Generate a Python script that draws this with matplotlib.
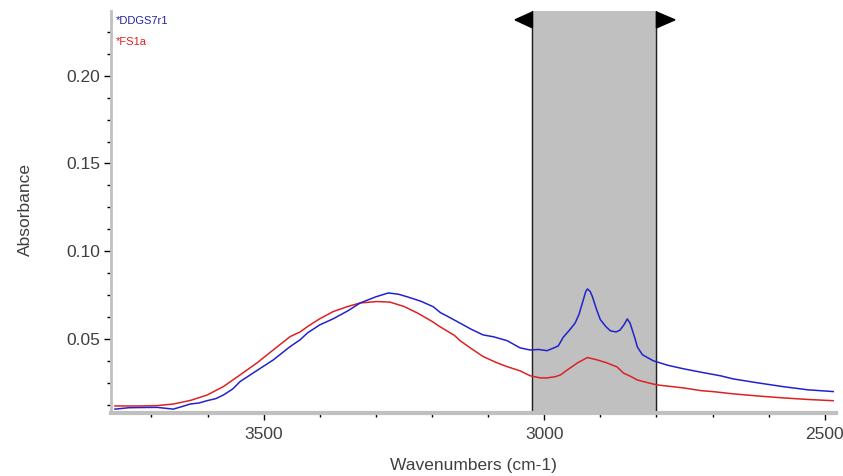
import numpy as np
import matplotlib
matplotlib.use("Agg")
import matplotlib.pyplot as plt
from matplotlib.patches import Polygon
from matplotlib.ticker import MultipleLocator
import matplotlib.transforms as mtransforms

plt.rcParams['font.family'] = ['Liberation Sans', 'DejaVu Sans']

# spectrum values (wavenumber, absorbance)
wn_ddgs = [3765, 3740, 3720, 3690, 3661, 3645, 3631, 3615, 3601, 3585, 3572, 3555,
           3542, 3512, 3483, 3453, 3435, 3422, 3400, 3376, 3350, 3328, 3300, 3278,
           3260, 3244, 3220, 3198, 3185, 3170, 3150, 3130, 3109, 3090, 3066, 3043,
           3025, 3010, 2995, 2982, 2975, 2966, 2955, 2945, 2938, 2932, 2926, 2923,
           2918, 2914, 2907, 2900, 2890, 2882, 2872, 2865, 2858, 2852, 2847, 2843,
           2838, 2834, 2825, 2806, 2780, 2752, 2720, 2686, 2663, 2620, 2574, 2530, 2485]
abs_ddgs = [0.0100, 0.0108, 0.0109, 0.0110, 0.0100, 0.0115, 0.0129, 0.0135, 0.0148, 0.0160,
            0.0180, 0.0215, 0.0257, 0.0320, 0.0380, 0.0456, 0.0495, 0.0534, 0.0580, 0.0615,
            0.0660, 0.0705, 0.0740, 0.0762, 0.0755, 0.0740, 0.0715, 0.0684, 0.0650, 0.0625,
            0.0590, 0.0555, 0.0523, 0.0512, 0.0490, 0.0449, 0.0437, 0.0440, 0.0433, 0.0450,
            0.0460, 0.0510, 0.0550, 0.0590, 0.0640, 0.0705, 0.0770, 0.0785, 0.0770, 0.0740,
            0.0670, 0.0610, 0.0570, 0.0546, 0.0540, 0.0550, 0.0580, 0.0614, 0.0590, 0.0550,
            0.0500, 0.0454, 0.0410, 0.0376, 0.0350, 0.0330, 0.0310, 0.0290, 0.0272, 0.0250,
            0.0228, 0.0210, 0.0200]

wn_fs = [3765, 3720, 3690, 3661, 3630, 3601, 3572, 3542, 3512, 3483, 3453, 3435,
         3422, 3400, 3376, 3350, 3328, 3298, 3275, 3250, 3226, 3200, 3185, 3160,
         3150, 3130, 3109, 3085, 3066, 3043, 3025, 3007, 2995, 2980, 2971, 2959,
         2940, 2923, 2905, 2888, 2870, 2859, 2845, 2834, 2815, 2799, 2752, 2720,
         2700, 2663, 2620, 2574, 2530, 2485]
abs_fs = [0.0118, 0.0118, 0.0120, 0.0129, 0.0150, 0.0180, 0.0228, 0.0295, 0.0363, 0.0437,
          0.0513, 0.0540, 0.0570, 0.0615, 0.0656, 0.0685, 0.0705, 0.0713, 0.0710, 0.0685,
          0.0648, 0.0600, 0.0568, 0.0520, 0.0490, 0.0445, 0.0400, 0.0365, 0.0342, 0.0318,
          0.0290, 0.0278, 0.0278, 0.0285, 0.0295, 0.0323, 0.0365, 0.0394, 0.0380, 0.0363,
          0.0340, 0.0306, 0.0285, 0.0266, 0.0250, 0.0238, 0.0221, 0.0205, 0.0200, 0.0187,
          0.0175, 0.0164, 0.0155, 0.0148]

region = (3021, 2800)
text_col = '#404040'
axis_col = '#c0c0c0'

fig = plt.figure(figsize=(8.43, 4.76), dpi=100)
ax = fig.add_axes([0.1317, 0.1324, 0.8600, 0.8445])

# shaded region with edge lines
ax.axvspan(region[0], region[1], color='#c0c0c0', zorder=0)
ax.axvline(region[0], color='#202020', lw=1.0, zorder=1)
ax.axvline(region[1], color='#202020', lw=1.0, zorder=1)

ax.plot(wn_ddgs, abs_ddgs, color='#2222cc', lw=1.1, zorder=3)
ax.plot(wn_fs, abs_fs, color='#dd2222', lw=1.1, zorder=2)

ax.set_xlim(3772, 2480)
ax.set_ylim(0.0078, 0.2369)

# arrow heads at the top of the region
trans = mtransforms.blended_transform_factory(ax.transData, ax.transAxes)
left_tri = Polygon([(3052, 0.978), (region[0], 0.9975), (region[0], 0.958)],
                   closed=True, color='black', transform=trans, clip_on=False, zorder=4)
right_tri = Polygon([(2767, 0.978), (region[1], 0.9975), (region[1], 0.958)],
                    closed=True, color='black', transform=trans, clip_on=False, zorder=4)
ax.add_patch(left_tri)
ax.add_patch(right_tri)

# spines
for s in ['top', 'right']:
    ax.spines[s].set_visible(False)
ax.spines['bottom'].set_color(axis_col)
ax.spines['bottom'].set_linewidth(3)
ax.spines['left'].set_color(axis_col)
ax.spines['left'].set_linewidth(2)

ax.xaxis.set_major_locator(MultipleLocator(500))
ax.xaxis.set_minor_locator(MultipleLocator(100))
ax.yaxis.set_major_locator(MultipleLocator(0.05))
ax.yaxis.set_minor_locator(MultipleLocator(0.0125))
ax.yaxis.set_major_formatter(matplotlib.ticker.FormatStrFormatter('%.2f'))

ax.tick_params(axis='both', which='major', length=5, width=1, color='black',
               labelsize=12.5, labelcolor=text_col)
ax.tick_params(axis='both', which='minor', length=3, width=1, color='black')
ax.tick_params(axis='x', which='major', pad=5)
ax.tick_params(axis='y', which='major', pad=3)

ax.set_xlabel('Wavenumbers (cm-1)', fontsize=12.5, color=text_col)
ax.set_ylabel('Absorbance', fontsize=12.5, color=text_col)
ax.xaxis.set_label_coords(0.5, -0.112)
ax.yaxis.set_label_coords(-0.108, 0.505)

# sample names
ax.text(0.007, 0.988, '*DDGS7r1', transform=ax.transAxes, color='#2222aa',
        fontsize=8, va='top', ha='left')
ax.text(0.007, 0.935, '*FS1a', transform=ax.transAxes, color='#dd2222',
        fontsize=8, va='top', ha='left')

fig.savefig('out.png', dpi=100)
